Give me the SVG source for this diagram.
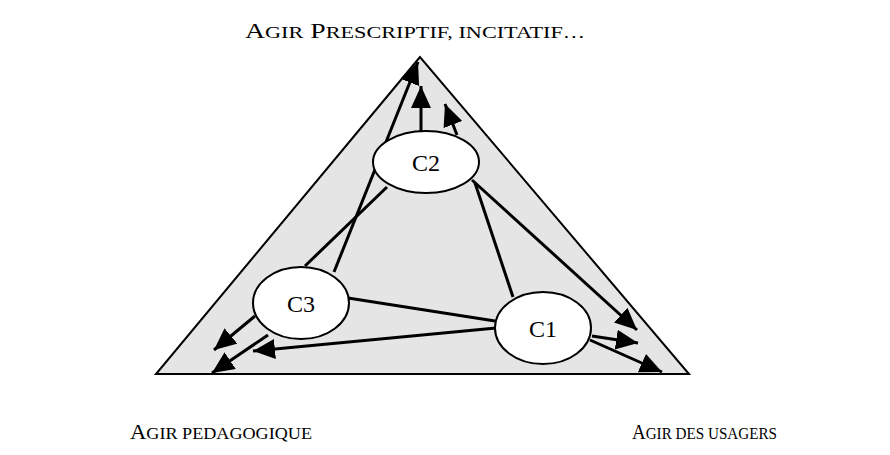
<svg xmlns="http://www.w3.org/2000/svg" width="890" height="455" viewBox="0 0 890 455">
<style>
text{font-family:"Liberation Serif","Times New Roman",serif;fill:#000}
.lbl{font-size:20px}
.sc{font-size:16px}
.node{fill:#fff;stroke:#000;stroke-width:2}
.c{fill:none;stroke:#000;stroke-width:3}
.a{marker-end:url(#ah)}
</style>
<defs>
<marker id="ah" markerUnits="userSpaceOnUse" markerWidth="24" markerHeight="22" refX="22" refY="10" orient="auto">
<path d="M0,0 L22,10 L0,20 z" fill="#000"/>
</marker>
</defs>
<rect width="890" height="455" fill="#fff"/>
<polygon points="420,57 156,374 689,374" fill="#e5e5e5" stroke="#000" stroke-width="2"/>
<g id="connectors">
<line class="c a" x1="334" y1="272" x2="418" y2="62"/>
<line class="c" x1="305" y1="266" x2="387" y2="187"/>
<line class="c a" x1="421" y1="132" x2="421" y2="86"/>
<line class="c a" x1="457" y1="135" x2="445" y2="104"/>
<line class="c a" x1="472" y1="180" x2="637" y2="330"/>
<line class="c" x1="475" y1="183" x2="513" y2="297"/>
<line class="c" x1="348" y1="298" x2="495" y2="321"/>
<line class="c a" x1="496" y1="328" x2="253" y2="351"/>
<line class="c a" x1="255" y1="316" x2="214" y2="350"/>
<line class="c a" x1="268" y1="335" x2="212" y2="373"/>
<line class="c a" x1="592" y1="336" x2="638" y2="343"/>
<line class="c a" x1="590" y1="340" x2="662" y2="372"/>
</g>
<g id="C2"><ellipse class="node" cx="426" cy="162" rx="53" ry="31"/><text x="426" y="171" font-size="24" text-anchor="middle">C2</text></g>
<g id="C3"><ellipse class="node" cx="301" cy="303" rx="48" ry="36"/><text x="301" y="312" font-size="24" text-anchor="middle">C3</text></g>
<g id="C1"><ellipse class="node" cx="543" cy="328" rx="48" ry="36"/><text x="543" y="337" font-size="24" text-anchor="middle">C1</text></g>
<g id="top-label"><text class="lbl" x="245" y="38" textLength="340" lengthAdjust="spacingAndGlyphs">A<tspan class="sc">GIR</tspan> P<tspan class="sc">RESCRIPTIF, INCITATIF…</tspan></text></g>
<g id="left-label"><text class="lbl" x="130" y="439" textLength="182" lengthAdjust="spacingAndGlyphs">A<tspan class="sc">GIR PEDAGOGIQUE</tspan></text></g>
<g id="right-label"><text class="lbl" x="632" y="439" textLength="145" lengthAdjust="spacingAndGlyphs">A<tspan class="sc">GIR DES USAGERS</tspan></text></g>
</svg>
